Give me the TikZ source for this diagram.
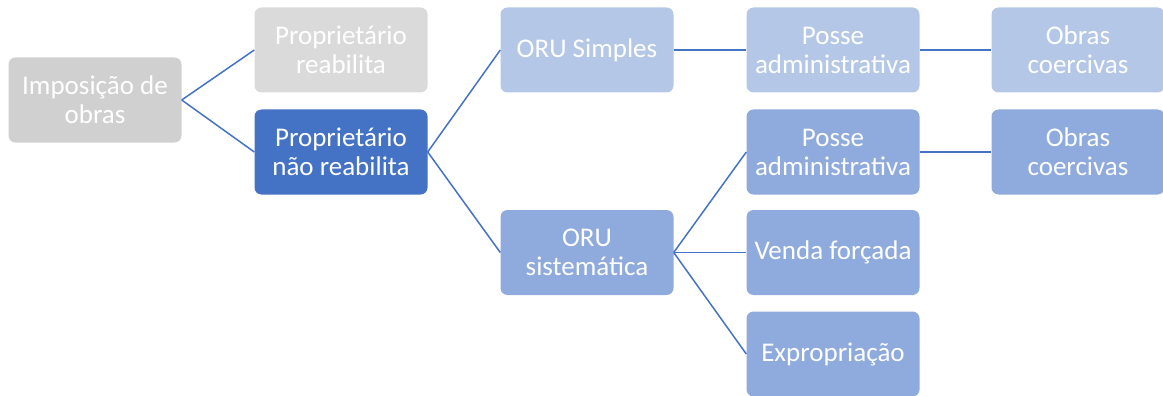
\documentclass[tikz,border=0pt]{standalone}
\usepackage{fontspec}
\setmainfont{Carlito}
\definecolor{greybox}{HTML}{D0D0D0}
\definecolor{paleGrey}{HTML}{DADADA}
\definecolor{accent}{HTML}{4472C4}
\definecolor{paleBlue}{HTML}{B4C7E7}
\definecolor{midBlue}{HTML}{8FAADC}
\begin{document}
\begin{tikzpicture}[x=1pt,y=-1pt,
  box/.style={rounded corners=7pt, minimum width=173pt, minimum height=85pt,
    inner sep=2pt, align=center, text=white, font=\fontsize{27}{29}\selectfont},
  link/.style={draw=accent, line width=1.5pt}]
  \useasboundingbox (0,0) rectangle (1163,396);
  % column 1
  \node[box, fill=greybox] (imp) at (95,100) {Imposição de\\obras};
  % column 2
  \node[box, fill=paleGrey] (pr) at (341,50) {Proprietário\\reabilita};
  \node[box, fill=accent] (pnr) at (341,152) {Proprietário\\não reabilita};
  % column 3
  \node[box, fill=paleBlue] (orus) at (587,50) {ORU Simples};
  \node[box, fill=midBlue] (orusis) at (587,252.5) {ORU\\sistemática};
  % column 4
  \node[box, fill=paleBlue] (pa1) at (833,50) {Posse\\administrativa};
  \node[box, fill=midBlue] (pa2) at (833,152) {Posse\\administrativa};
  \node[box, fill=midBlue] (vf) at (833,252.5) {Venda forçada};
  \node[box, fill=midBlue] (exp) at (833,354) {Expropriação};
  % column 5
  \node[box, fill=paleBlue] (oc1) at (1078,50) {Obras\\coercivas};
  \node[box, fill=midBlue] (oc2) at (1078,152) {Obras\\coercivas};
  % connectors
  \draw[link] (imp.east) -- (pr.west);
  \draw[link] (imp.east) -- (pnr.west);
  \draw[link] (pnr.east) -- (orus.west);
  \draw[link] (pnr.east) -- (orusis.west);
  \draw[link] (orus.east) -- (pa1.west);
  \draw[link] (pa1.east) -- (oc1.west);
  \draw[link] (orusis.east) -- (pa2.west);
  \draw[link] (orusis.east) -- (vf.west);
  \draw[link] (orusis.east) -- (exp.west);
  \draw[link] (pa2.east) -- (oc2.west);
\end{tikzpicture}
\end{document}
